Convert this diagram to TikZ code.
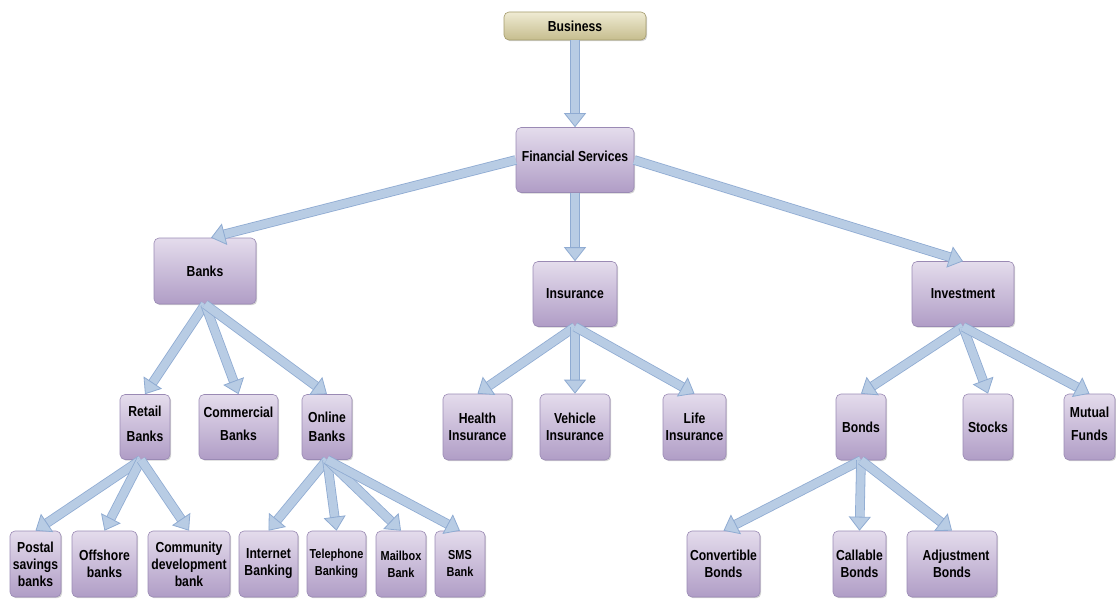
\documentclass[tikz,border=0pt]{standalone}
\usepackage{fontspec}
\setmainfont{Liberation Sans}[FakeStretch=0.84]
\usetikzlibrary{arrows.meta,shadows}
\definecolor{boxtop}{HTML}{E4DCEC}
\definecolor{boxbot}{HTML}{B09DC6}
\definecolor{boxline}{HTML}{9A8AB4}
\definecolor{toptop}{HTML}{EFEBD3}
\definecolor{topbot}{HTML}{C6BD8E}
\definecolor{topline}{HTML}{A49B6C}
\definecolor{arrfill}{HTML}{B8CCE4}
\definecolor{arredge}{HTML}{8FABD2}
\tikzset{
  box/.style={draw=boxline, line width=0.6pt, rounded corners=5pt,
    top color=boxtop, bottom color=boxbot, align=center, inner sep=2pt,
    font=\fontsize{14.5}{17}\selectfont\bfseries,
    drop shadow={shadow xshift=1.2pt, shadow yshift=-1.2pt, opacity=0.35}},
  topbox/.style={box, draw=topline, top color=toptop, bottom color=topbot},
  smallbox/.style={box, font=\fontsize{13}{17}\selectfont\bfseries},
  sz/.style n args={2}{minimum width=#1pt, minimum height=#2pt},
  fatarrow/.style={line width=8pt, draw=arrfill,
    -{Triangle[width=22pt,length=14pt,line width=0.8pt,color=arredge,fill=arrfill]},
    preaction={draw=arredge, line width=9.6pt, arrows=-, shorten >=12pt}}
}
\begin{document}
\begin{tikzpicture}[x=1pt,y=-1pt]
  \useasboundingbox (0,0) rectangle (1116,599);
  \node[topbox, sz={142}{28}] (business) at (575,26) {Business};
  \node[box, sz={118}{65}] (fs) at (575,160) {\raisebox{8pt}{Financial Services}};
  \node[box, sz={102}{66}] (banks) at (205,271) {Banks};
  \node[box, sz={84}{65}] (insurance) at (575,294) {Insurance};
  \node[box, sz={102}{65}] (investment) at (963,294) {Investment};
  \node[box, sz={50}{65}] (retail) at (145,427) {\raisebox{6pt}{Retail}\\[8pt]\raisebox{6pt}{Banks}};
  \node[box, sz={79}{65}] (commercial) at (238.5,427) {\raisebox{6pt}{Commercial}\\[6pt]\raisebox{6pt}{Banks}};
  \node[box, sz={50}{65}] (online) at (327,427) {Online\\[2pt]Banks};
  \node[box, sz={69}{66}] (health) at (477.5,427) {Health\\Insurance};
  \node[box, sz={70}{66}] (vehicle) at (575,427) {Vehicle\\Insurance};
  \node[box, sz={63}{66}] (life) at (694.5,427) {Life\\Insurance};
  \node[box, sz={50}{66}] (bonds) at (861,427) {Bonds};
  \node[box, sz={50}{66}] (stocks) at (988,427) {Stocks};
  \node[box, sz={51}{66}] (mutual) at (1089.5,427) {\raisebox{6pt}{Mutual}\\[6pt]\raisebox{6pt}{Funds}};
  \node[box, sz={51}{66}] (postal) at (35.5,564) {Postal\\savings\\banks};
  \node[box, sz={65}{66}] (offshore) at (104.5,564) {Offshore\\banks};
  \node[box, sz={82}{66}] (community) at (189,564) {Community\\development\\bank};
  \node[box, sz={59}{66}] (internet) at (268.5,564) {Internet\\Banking};
  \node[smallbox, sz={59}{66}] (telephone) at (336.5,564) {Telephone\\Banking};
  \node[smallbox, sz={50}{66}] (mailbox) at (401,564) {Mailbox\\Bank};
  \node[smallbox, sz={50}{66}] (sms) at (460,564) {SMS\\Bank};
  \node[box, sz={73}{66}] (convertible) at (723.5,564) {Convertible\\Bonds};
  \node[box, sz={53}{66}] (callable) at (859.5,564) {Callable\\Bonds};
  \node[box, sz={90}{66}] (adjustment) at (952,564) {\hspace*{8pt}Adjustment\\Bonds};
  \draw[fatarrow] (business.south) -- (fs.north);
  \draw[fatarrow] (fs.west) -- ([xshift=6pt]banks.north);
  \draw[fatarrow] (fs.south) -- (insurance.north);
  \draw[fatarrow] (fs.east) -- (investment.north);
  \foreach \c in {retail,commercial,online}
    \draw[fatarrow] (banks.south) -- (\c.north);
  \foreach \c in {health,vehicle,life}
    \draw[fatarrow] (insurance.south) -- (\c.north);
  \foreach \c in {bonds,stocks,mutual}
    \draw[fatarrow] (investment.south) -- (\c.north);
  \foreach \c in {postal,offshore,community}
    \draw[fatarrow] ([xshift=-4pt]retail.south) -- (\c.north);
  \foreach \c in {internet,telephone,mailbox,sms}
    \draw[fatarrow] (online.south) -- (\c.north);
  \foreach \c in {convertible,callable,adjustment}
    \draw[fatarrow] (bonds.south) -- (\c.north);
\end{tikzpicture}
\end{document}
